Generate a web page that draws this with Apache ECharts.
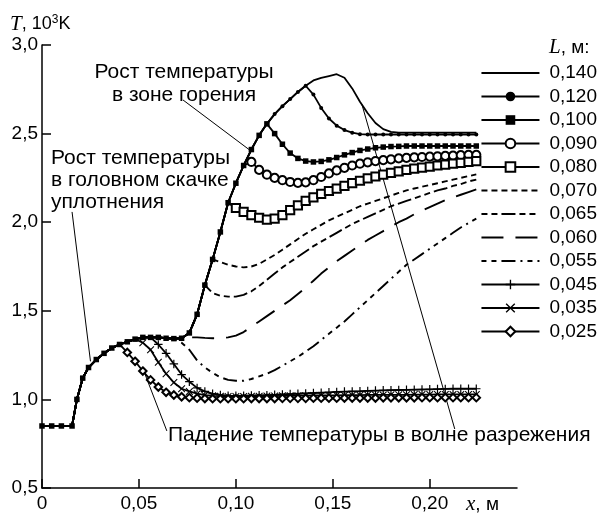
<!DOCTYPE html>
<html><head><meta charset="utf-8">
<script src="https://cdn.jsdelivr.net/npm/echarts@6/dist/echarts.min.js"></script>
<style>html,body{margin:0;padding:0;background:#fff}#c{width:605px;height:516px}</style>
</head><body><div id="c"></div>
<script>
// ---- data (x in m, T in 10^3 K) ----
const xGrid = [0, 0.005, 0.010, 0.0155, 0.018, 0.021, 0.024, 0.028, 0.032, 0.036, 0.040, 0.044, 0.048, 0.052, 0.056, 0.060, 0.064, 0.068, 0.072, 0.076, 0.080, 0.084, 0.088, 0.092, 0.096, 0.100, 0.104, 0.108, 0.112, 0.116, 0.120, 0.124, 0.128, 0.132, 0.136, 0.140, 0.144, 0.148, 0.152, 0.156, 0.160, 0.164, 0.168, 0.172, 0.176, 0.180, 0.184, 0.188, 0.192, 0.196, 0.200, 0.204, 0.208, 0.212, 0.216, 0.220, 0.224];
// L = 0.140 m (all other curves coincide with it up to their branch point)
const t140 = [0.85, 0.85, 0.85, 0.85, 1.00, 1.12, 1.18, 1.225, 1.26, 1.29, 1.31, 1.325, 1.34, 1.35, 1.35, 1.35, 1.345, 1.343, 1.345, 1.375, 1.48, 1.645, 1.79, 1.945, 2.11, 2.22, 2.32, 2.41, 2.49, 2.555, 2.61, 2.655, 2.695, 2.735, 2.77, 2.80, 2.815, 2.825, 2.835, 2.815, 2.755, 2.68, 2.615, 2.56, 2.525, 2.51, 2.505, 2.505, 2.505, 2.505, 2.505, 2.505, 2.505, 2.505, 2.505, 2.505, 2.505];
// branch tails: values from x = branch point onward (on xGrid)
const t120 = [2.72, 2.645, 2.585, 2.545, 2.52, 2.505, 2.497, 2.495, 2.495, 2.495, 2.495, 2.495, 2.495, 2.495, 2.495, 2.495, 2.495, 2.495, 2.495, 2.495, 2.495, 2.495];
const t100 = [2.50, 2.44, 2.39, 2.36, 2.345, 2.34, 2.343, 2.352, 2.365, 2.38, 2.393, 2.405, 2.413, 2.42, 2.424, 2.427, 2.428, 2.43, 2.43, 2.43, 2.43, 2.43, 2.43, 2.43, 2.43, 2.43, 2.43];
const t090 = [2.34, 2.295, 2.268, 2.25, 2.237, 2.227, 2.222, 2.225, 2.237, 2.255, 2.275, 2.292, 2.307, 2.32, 2.33, 2.338, 2.345, 2.35, 2.355, 2.36, 2.363, 2.366, 2.368, 2.37, 2.372, 2.374, 2.376, 2.378, 2.38, 2.38];
const t080 = [2.08, 2.058, 2.04, 2.025, 2.015, 2.02, 2.04, 2.068, 2.095, 2.12, 2.14, 2.16, 2.176, 2.19, 2.205, 2.22, 2.234, 2.247, 2.258, 2.268, 2.278, 2.287, 2.295, 2.302, 2.308, 2.314, 2.32, 2.325, 2.33, 2.335, 2.34, 2.345];
const t070 = [1.775, 1.76, 1.75, 1.745, 1.75, 1.765, 1.79, 1.815, 1.845, 1.875, 1.905, 1.935, 1.96, 1.985, 2.01, 2.03, 2.05, 2.07, 2.09, 2.105, 2.12, 2.135, 2.15, 2.165, 2.18, 2.19, 2.20, 2.21, 2.22, 2.23, 2.24, 2.25, 2.26, 2.27];
const t065 = [1.60, 1.585, 1.58, 1.58, 1.59, 1.61, 1.64, 1.675, 1.71, 1.745, 1.775, 1.805, 1.835, 1.865, 1.89, 1.915, 1.94, 1.965, 1.99, 2.01, 2.03, 2.05, 2.07, 2.09, 2.105, 2.12, 2.135, 2.15, 2.165, 2.18, 2.19, 2.205, 2.215, 2.23, 2.24];
const t060 = [1.35, 1.35, 1.347, 1.345, 1.345, 1.35, 1.36, 1.38, 1.41, 1.44, 1.47, 1.50, 1.53, 1.56, 1.595, 1.63, 1.67, 1.71, 1.745, 1.78, 1.81, 1.84, 1.87, 1.90, 1.925, 1.95, 1.975, 2.00, 2.02, 2.045, 2.065, 2.085, 2.105, 2.125, 2.14, 2.155, 2.17, 2.185];
const t055 = [1.32, 1.28, 1.22, 1.18, 1.15, 1.125, 1.11, 1.105, 1.105, 1.115, 1.13, 1.145, 1.165, 1.19, 1.215, 1.24, 1.27, 1.30, 1.335, 1.37, 1.405, 1.44, 1.48, 1.52, 1.56, 1.60, 1.64, 1.68, 1.72, 1.76, 1.79, 1.82, 1.85, 1.88, 1.91, 1.94, 1.97, 1.995, 2.02];
const t045 = [1.31, 1.26, 1.20, 1.14, 1.10, 1.065, 1.045, 1.032, 1.025, 1.02, 1.02, 1.021, 1.022, 1.023, 1.024, 1.026, 1.028, 1.03, 1.032, 1.034, 1.036, 1.038, 1.04, 1.042, 1.044, 1.045, 1.046, 1.048, 1.05, 1.051, 1.052, 1.053, 1.054, 1.055, 1.056, 1.057, 1.058, 1.059, 1.06, 1.06, 1.06, 1.06];
const t035 = [1.32, 1.28, 1.21, 1.145, 1.095, 1.06, 1.045, 1.032, 1.024, 1.02, 1.018, 1.017, 1.017, 1.017, 1.018, 1.018, 1.019, 1.019, 1.02, 1.02, 1.021, 1.021, 1.022, 1.022, 1.023, 1.023, 1.024, 1.024, 1.024, 1.025, 1.025, 1.025, 1.026, 1.026, 1.026, 1.027, 1.027, 1.027, 1.028, 1.028, 1.028, 1.028, 1.028, 1.028];
const t025 = [1.265, 1.215, 1.16, 1.11, 1.07, 1.04, 1.025, 1.015, 1.01, 1.007, 1.005, 1.004, 1.004, 1.004, 1.004, 1.004, 1.005, 1.005, 1.005, 1.005, 1.006, 1.006, 1.006, 1.006, 1.007, 1.007, 1.007, 1.007, 1.008, 1.008, 1.008, 1.008, 1.008, 1.009, 1.009, 1.009, 1.009, 1.009, 1.01, 1.01, 1.01, 1.01, 1.01, 1.01, 1.01, 1.01];
const seriesNames = ['0,140', '0,120', '0,100', '0,090', '0,080', '0,070', '0,065', '0,060', '0,055', '0,045', '0,035', '0,025'];
const branchX = [null, 0.140, 0.120, 0.108, 0.100, 0.092, 0.088, 0.076, 0.072, 0.060, 0.052, 0.044];
const tails = [[], t120, t100, t090, t080, t070, t065, t060, t055, t045, t035, t025];
const xTicks = [0, 0.05, 0.10, 0.15, 0.20];
const yTicks = [0.5, 1.0, 1.5, 2.0, 2.5, 3.0];

// ---- styles ----
const PLUS = 'path://M4.3,0H5.7V4.3H10V5.7H5.7V10H4.3V5.7H0V4.3H4.3Z';
const CROSS = 'path://M1,0L5,4L9,0L10,1L6,5L10,9L9,10L5,6L1,10L0,9L4,5L0,1Z';
const styles = [
  {symbol: 'none'},
  {symbol: 'circle', size: 4, all: true},
  {symbol: 'rect', size: 5.5, all: true},
  {symbol: 'emptyCircle', size: 8.2},
  {symbol: 'emptyRect', size: 8.2},
  {symbol: 'none', dash: [6, 4]},
  {symbol: 'none', dash: [6, 4, 6, 4, 14, 4]},
  {symbol: 'none', dash: [22, 12]},
  {symbol: 'none', dash: [5, 5, 5, 5, 14, 5, 2, 5]},
  {symbol: PLUS, size: 8.5},
  {symbol: CROSS, size: 7.5},
  {symbol: 'emptyDiamond', size: 7.5}
];
const SANS = 'Liberation Sans, Arial, sans-serif';
const SERIF = 'Liberation Serif, DejaVu Serif, serif';

function buildData(k) {
  const from = branchX[k];
  const start = from == null ? xGrid.length : xGrid.findIndex(x => Math.abs(x - from) < 1e-9);
  const st = styles[k];
  const out = [];
  for (let i = 0; i < xGrid.length; i++) {
    let t;
    if (i < start) t = t140[i];
    else {
      const j = i - start;
      if (j >= tails[k].length) break;
      t = tails[k][j];
    }
    if (st.symbol !== 'none' && !st.all && i < start) out.push({value: [xGrid[i], t], symbol: 'none'});
    else out.push([xGrid[i], t]);
  }
  return out;
}

const series = seriesNames.map((name, k) => {
  const st = styles[k];
  return {
    name, type: 'line', data: buildData(k),
    symbol: st.symbol, symbolSize: st.size || 0, showSymbol: st.symbol !== 'none',
    color: '#000',
    lineStyle: {color: '#000', width: st.dash ? 1.9 : 1.8, type: st.dash || 'solid'},
    itemStyle: {color: '#000', borderColor: '#000', borderWidth: st.symbol && st.symbol.indexOf('empty') === 0 ? 1.3 : 0},
    z: 10 - (st.dash ? 1 : 0),
    silent: true, animation: false
  };
});

// annotation leader lines (data coordinates)
series[0].markLine = {
  silent: true, symbol: ['none', 'none'], label: {show: false},
  lineStyle: {color: '#000', width: 1, type: 'solid'},
  animation: false,
  data: [
    [{coord: [0.0727, 2.69]}, {coord: [0.1068, 2.41]}],
    [{coord: [0.0155, 2.058]}, {coord: [0.0250, 1.215]}],
    [{coord: [0.0644, 0.822]}, {coord: [0.0521, 1.172]}],
    [{coord: [0.2129, 0.833]}, {coord: [0.1650, 2.665]}]
  ]
};

const legendData = seriesNames.map((n, k) => styles[k].symbol === 'none'
  ? {name: n, itemStyle: {color: 'rgba(0,0,0,0)', borderColor: 'rgba(0,0,0,0)', borderWidth: 0}}
  : {name: n});

const fmtX = v => v === 0 ? '0' : v.toFixed(2).replace('.', ',');
const fmtY = v => v.toFixed(1).replace('.', ',');

const option = {
  animation: false,
  backgroundColor: '#fff',
  grid: {left: 42, right: 88, top: 45, bottom: 28, containLabel: false},
  xAxis: {
    type: 'value', min: 0, max: 0.245, interval: 0.05,
    axisLine: {show: true, lineStyle: {color: '#000', width: 1.5}},
    axisTick: {show: true, inside: true, length: 9, lineStyle: {color: '#000', width: 1.5}, customValues: xTicks},
    axisLabel: {customValues: xTicks, formatter: fmtX, color: '#000', fontSize: 19, fontFamily: SANS, margin: 6},
    splitLine: {show: false}
  },
  yAxis: {
    type: 'value', min: 0.5, max: 3.0, interval: 0.5,
    axisLine: {show: true, lineStyle: {color: '#000', width: 1.5}},
    axisTick: {show: true, inside: true, length: 9, lineStyle: {color: '#000', width: 1.5}, customValues: yTicks},
    axisLabel: {customValues: yTicks, formatter: fmtY, color: '#000', fontSize: 19, fontFamily: SANS, margin: 4},
    splitLine: {show: false}
  },
  legend: {
    orient: 'vertical', right: 3, top: 58, itemWidth: 58, itemHeight: 12, itemGap: 3.5,
    selectedMode: false,
    textStyle: {fontSize: 19, color: '#000', fontFamily: SANS, lineHeight: 20, padding: [0, 0, 0, 5]},
    data: legendData
  },
  graphic: [
    {type: 'text', x: 10, y: 14, style: {text: '{i|T}, 10{s|3}K', fill: '#000', fontSize: 18, fontFamily: SANS,
      rich: {i: {fontFamily: SERIF, fontStyle: 'italic', fontSize: 21}, s: {fontSize: 12, verticalAlign: 'top', fontFamily: SANS}}}},
    {type: 'text', x: 549, y: 37, style: {text: '{i|L}, м:', fill: '#000', fontSize: 19, fontFamily: SANS,
      rich: {i: {fontFamily: SERIF, fontStyle: 'italic', fontSize: 21}}}},
    {type: 'text', x: 466, y: 494, style: {text: '{i|x}, м', fill: '#000', fontSize: 19, fontFamily: SANS,
      rich: {i: {fontFamily: SERIF, fontStyle: 'italic', fontSize: 21}}}},
    {type: 'text', x: 184, y: 61, style: {text: 'Рост температуры\nв зоне горения', align: 'center', fill: '#000', fontSize: 21, lineHeight: 23, fontFamily: SANS}},
    {type: 'text', x: 51, y: 147, style: {text: 'Рост температуры\nв головном скачке\nуплотнения', align: 'left', fill: '#000', fontSize: 21, lineHeight: 22, fontFamily: SANS}},
    {type: 'text', x: 168, y: 425, style: {text: 'Падение температуры в волне разрежения', fill: '#000', fontSize: 21, fontFamily: SANS}}
  ],
  series
};

const chart = echarts.init(document.getElementById('c'), null, {renderer: 'canvas'});
chart.setOption(option);
</script>
</body></html>
